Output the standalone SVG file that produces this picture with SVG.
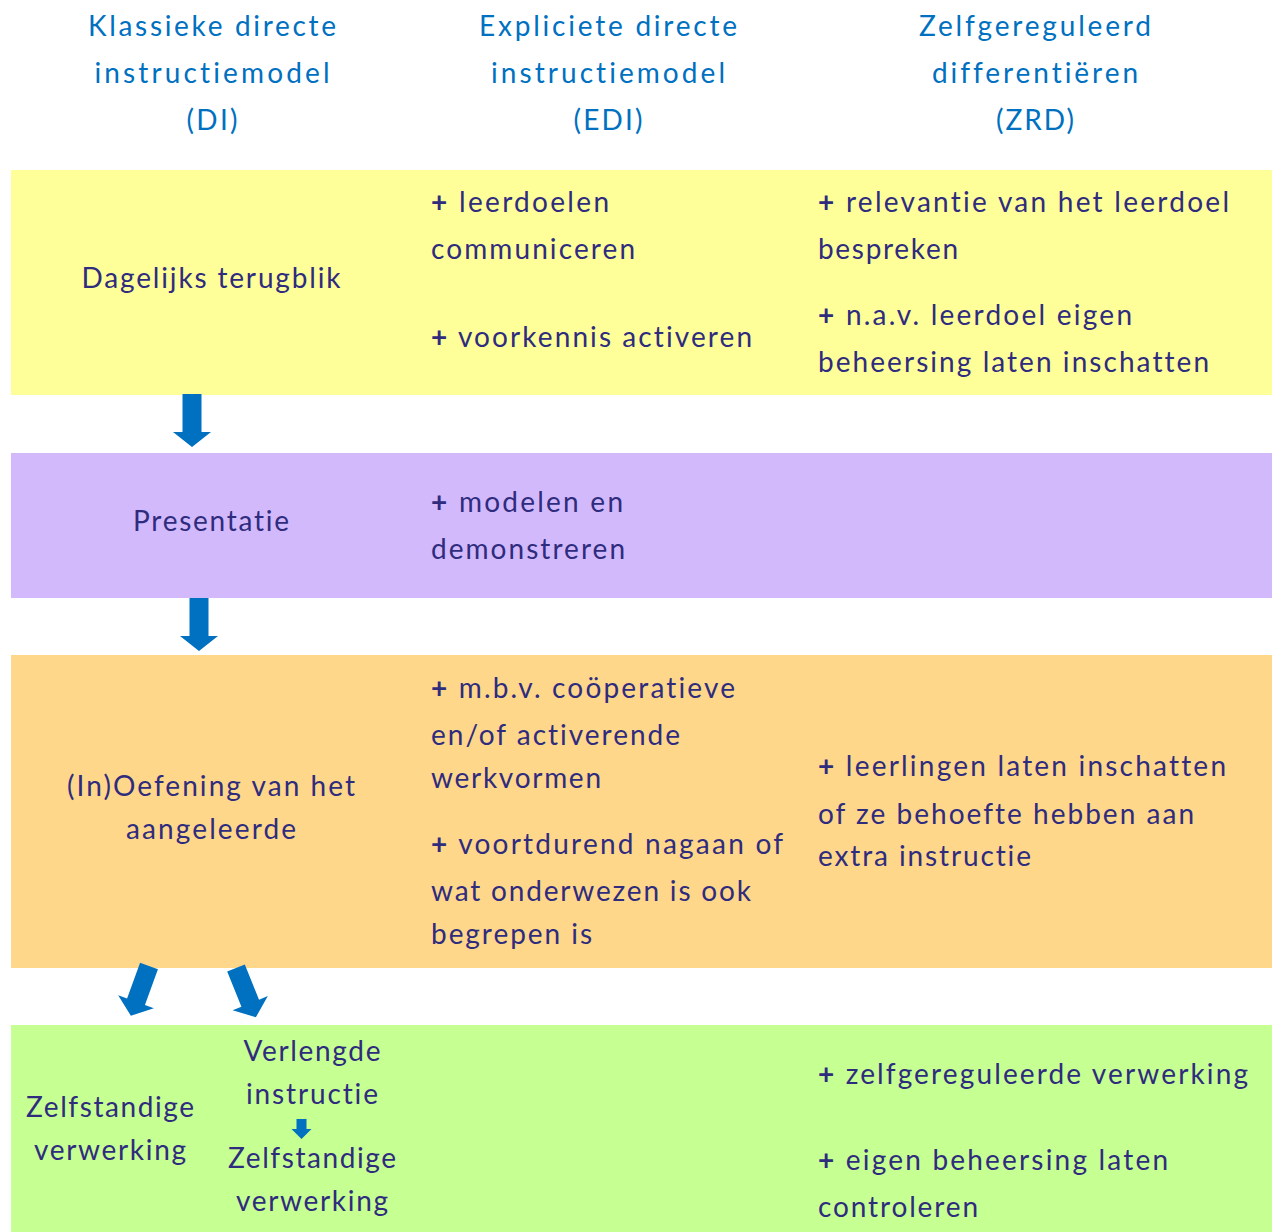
<svg xmlns="http://www.w3.org/2000/svg" width="1272" height="1232" viewBox="0 0 1272 1232">
<style>
text{font-family:Lato,"Open Sans","Liberation Sans",sans-serif;font-size:28px;letter-spacing:2px}
.h{fill:#0070C0;text-anchor:middle}
.t{fill:#2F2C7E}
.c{text-anchor:middle}
.p{font-weight:bold}
.arrow{fill:#0070C0}
</style>
<defs>
<polygon id="arw" points="-9.5,0 9.5,0 9.5,38 19,38 0,53 -19,38 -9.5,38"/>
</defs>
<rect width="1272" height="1232" fill="#FFFFFF"/>
<g id="headers">
<text class="h" x="213" y="36" textLength="250">Klassieke directe</text>
<text class="h" x="213" y="83" textLength="237">instructiemodel</text>
<text class="h" x="213" y="130" textLength="53">(DI)</text>
<text class="h" x="609" y="36" textLength="260">Expliciete directe</text>
<text class="h" x="609" y="83" textLength="236">instructiemodel</text>
<text class="h" x="609" y="130" textLength="71">(EDI)</text>
<text class="h" x="1036" y="36" textLength="234">Zelfgereguleerd</text>
<text class="h" x="1036" y="83" textLength="208">differentiëren</text>
<text class="h" x="1036" y="130" textLength="80">(ZRD)</text>
</g>
<g id="row-terugblik">
<rect x="11" y="170" width="1261" height="225" fill="#FFFF9A"/>
<text class="t c" x="212" y="288" textLength="261">Dagelijks terugblik</text>
<text class="t" x="431" y="212" textLength="180"><tspan class="p">+</tspan> leerdoelen</text>
<text class="t" x="431" y="259" textLength="206">communiceren</text>
<text class="t" x="431" y="347" textLength="323"><tspan class="p">+</tspan> voorkennis activeren</text>
<text class="t" x="818" y="212" textLength="413"><tspan class="p">+</tspan> relevantie van het leerdoel</text>
<text class="t" x="818" y="259" textLength="142">bespreken</text>
<text class="t" x="818" y="325" textLength="316"><tspan class="p">+</tspan> n.a.v. leerdoel eigen</text>
<text class="t" x="818" y="372" textLength="393">beheersing laten inschatten</text>
</g>
<g id="row-presentatie">
<rect x="11" y="453" width="1261" height="145" fill="#D2B9FC"/>
<text class="t c" x="212" y="531" textLength="158">Presentatie</text>
<text class="t" x="431" y="512" textLength="194"><tspan class="p">+</tspan> modelen en</text>
<text class="t" x="431" y="559" textLength="196">demonstreren</text>
</g>
<g id="row-oefening">
<rect x="11" y="655" width="1261" height="313" fill="#FFD78B"/>
<text class="t c" x="212" y="796" textLength="290">(In)Oefening van het</text>
<text class="t c" x="212" y="839" textLength="172">aangeleerde</text>
<text class="t" x="431" y="698" textLength="306"><tspan class="p">+</tspan> m.b.v. coöperatieve</text>
<text class="t" x="431" y="745" textLength="251">en/of activerende</text>
<text class="t" x="431" y="788" textLength="172">werkvormen</text>
<text class="t" x="431" y="854" textLength="354"><tspan class="p">+</tspan> voortdurend nagaan of</text>
<text class="t" x="431" y="901" textLength="322">wat onderwezen is ook</text>
<text class="t" x="431" y="944" textLength="163">begrepen is</text>
<text class="t" x="818" y="776" textLength="410"><tspan class="p">+</tspan> leerlingen laten inschatten</text>
<text class="t" x="818" y="824" textLength="378">of ze behoefte hebben aan</text>
<text class="t" x="818" y="866" textLength="215">extra instructie</text>
</g>
<g id="row-verwerking">
<rect x="11" y="1025" width="1261" height="207" fill="#C6FF92"/>
<text class="t c" x="111" y="1117" textLength="170">Zelfstandige</text>
<text class="t c" x="111" y="1160" textLength="154">verwerking</text>
<text class="t c" x="313" y="1061" textLength="139">Verlengde</text>
<text class="t c" x="313" y="1104" textLength="134">instructie</text>
<text class="t c" x="313" y="1168" textLength="170">Zelfstandige</text>
<text class="t c" x="313" y="1211" textLength="154">verwerking</text>
<text class="t" x="818" y="1084" textLength="432"><tspan class="p">+</tspan> zelfgereguleerde verwerking</text>
<text class="t" x="818" y="1170" textLength="352"><tspan class="p">+</tspan> eigen beheersing laten</text>
<text class="t" x="818" y="1217" textLength="162">controleren</text>
</g>
<g id="connectors" class="arrow">
<use href="#arw" transform="translate(192,394)"/>
<use href="#arw" transform="translate(199,598)"/>
<use href="#arw" transform="translate(149,966) rotate(20)"/>
<use href="#arw" transform="translate(236,968) rotate(-22)"/>
<polygon points="296.5,1119 306.5,1119 306.5,1129 311.5,1129 301.5,1139 291.5,1129 296.5,1129"/>
</g>
</svg>
